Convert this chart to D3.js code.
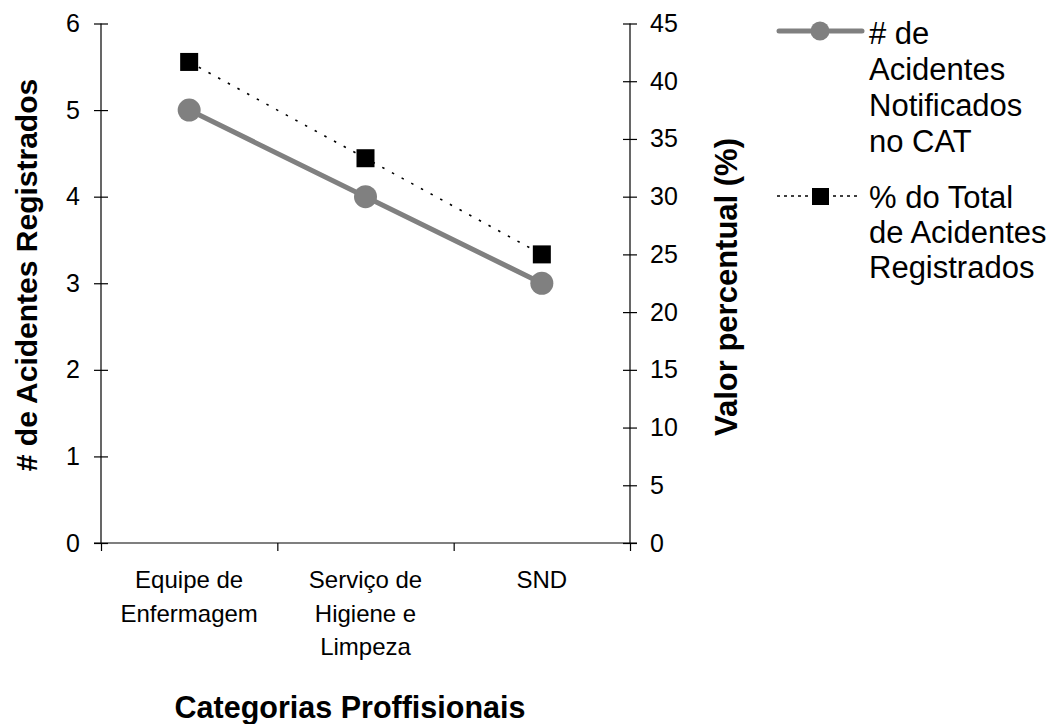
<!DOCTYPE html>
<html><head><meta charset="utf-8">
<script src="https://cdn.jsdelivr.net/npm/d3@7"></script>
<style>body{margin:0;background:#fff}svg{display:block}text{font-family:"Liberation Sans",Arial,sans-serif}</style>
</head><body>
<svg id="c" width="1054" height="724"></svg>
<script>
const categories = [["Equipe de","Enfermagem"],["Serviço de","Higiene e","Limpeza"],["SND"]];
const acidentesCAT = [5, 4, 3];
const percentualTotal = [41.67, 33.33, 25];
const leftTicks = [0,1,2,3,4,5,6];
const rightTicks = [0,5,10,15,20,25,30,35,40,45];
const legendLabels = [["# de","Acidentes","Notificados","no CAT"],["% do Total","de Acidentes","Registrados"]];

const svg = d3.select("#c");
const L = 101, R = 630, T = 23.5, B = 543;
const x = d3.scaleBand().domain(d3.range(categories.length)).range([L, R]);
const yL = d3.scaleLinear().domain([0, 6]).range([B, T]);
const yR = d3.scaleLinear().domain([0, 45]).range([B, T]);
const FONT = "Liberation Sans, Arial, sans-serif";

// axes
const axL = svg.append("g").attr("transform", `translate(${L},0)`)
  .call(d3.axisLeft(yL).tickValues(leftTicks).tickFormat(d3.format("d")).tickSize(7).tickPadding(14));
axL.selectAll(".tick line").attr("x1", -7).attr("x2", 7);
const axR = svg.append("g").attr("transform", `translate(${R},0)`)
  .call(d3.axisRight(yR).tickValues(rightTicks).tickFormat(d3.format("d")).tickSize(7).tickPadding(13));
axR.selectAll(".tick line").attr("x1", -7).attr("x2", 7);
const axB = svg.append("g").attr("transform", `translate(0,${B})`)
  .call(d3.axisBottom(d3.scaleLinear().domain([0,3]).range([L,R])).tickValues([0,1,2,3]).tickSize(8).tickFormat(""));
[axL, axR, axB].forEach(a => {
  a.attr("font-size", null).attr("font-family", null);
  a.select(".domain").remove();
  a.selectAll("line").attr("stroke", "#000").attr("stroke-width", 1.2);
  a.selectAll("text").style("font-size", "25px").attr("fill", "#000").style("font-family", FONT);
});
svg.append("line").attr("x1", L).attr("x2", L).attr("y1", T).attr("y2", B).attr("stroke", "#000").attr("stroke-width", 1.2);
svg.append("line").attr("x1", R).attr("x2", R).attr("y1", T).attr("y2", B).attr("stroke", "#000").attr("stroke-width", 1.2);
svg.append("line").attr("x1", L - 7).attr("x2", R + 7).attr("y1", B).attr("y2", B).attr("stroke", "#000").attr("stroke-width", 1.2);

// category labels
categories.forEach((lines, i) => {
  const t = svg.append("text").attr("text-anchor", "middle").style("font-size", "24px").attr("fill", "#000");
  lines.forEach((s, j) => t.append("tspan").attr("x", x(i) + x.bandwidth()/2).attr("y", 588 + j*33.5).text(s));
});

// titles
svg.append("text").attr("transform", `translate(37,275) rotate(-90)`).attr("text-anchor", "middle")
  .style("font-size", "30px").attr("font-weight", "bold").text("# de Acidentes Registrados");
svg.append("text").attr("transform", `translate(737,287) rotate(-90)`).attr("text-anchor", "middle")
  .style("font-size", "31px").attr("font-weight", "bold").text("Valor percentual (%)");
svg.append("text").attr("x", 350).attr("y", 718).attr("text-anchor", "middle")
  .style("font-size", "30.5px").attr("font-weight", "bold").text("Categorias Proffisionais");

const cx = i => x(i) + x.bandwidth()/2;
// series 2 (dotted)
svg.append("path").datum(percentualTotal).attr("fill", "none").attr("stroke", "#000").attr("stroke-width", 1.6)
  .attr("stroke-dasharray", "2.5,8.5")
  .attr("d", d3.line().x((d, i) => cx(i)).y(d => yR(d)));
svg.selectAll("rect.s2").data(percentualTotal).join("rect").attr("class", "s2")
  .attr("x", (d, i) => cx(i) - 9).attr("y", d => yR(d) - 9).attr("width", 18).attr("height", 18).attr("fill", "#000");

// series 1
svg.append("path").datum(acidentesCAT).attr("fill", "none").attr("stroke", "#808080").attr("stroke-width", 5)
  .attr("d", d3.line().x((d, i) => cx(i)).y(d => yL(d)));
svg.selectAll("circle.s1").data(acidentesCAT).join("circle").attr("class", "s1")
  .attr("cx", (d, i) => cx(i)).attr("cy", d => yL(d)).attr("r", 11.5).attr("fill", "#808080");

// legend
const lg = svg.append("g");
lg.append("line").attr("x1", 779).attr("x2", 862).attr("y1", 31).attr("y2", 31).attr("stroke", "#808080").attr("stroke-width", 5).attr("stroke-linecap", "round");
lg.append("circle").attr("cx", 820).attr("cy", 31).attr("r", 9.5).attr("fill", "#808080");
lg.append("line").attr("x1", 777).attr("x2", 861).attr("y1", 196).attr("y2", 196).attr("stroke", "#000").attr("stroke-width", 1.5).attr("stroke-dasharray", "3,4");
lg.append("rect").attr("x", 812).attr("y", 188).attr("width", 17).attr("height", 17).attr("fill", "#000");
const starts = [44, 208];
const steps = [36, 35];
legendLabels.forEach((lines, k) => {
  const t = lg.append("text").style("font-size", "31px").attr("fill", "#000");
  lines.forEach((s, j) => t.append("tspan").attr("x", 869).attr("y", starts[k] + j*steps[k]).text(s));
});
</script>
</body></html>
